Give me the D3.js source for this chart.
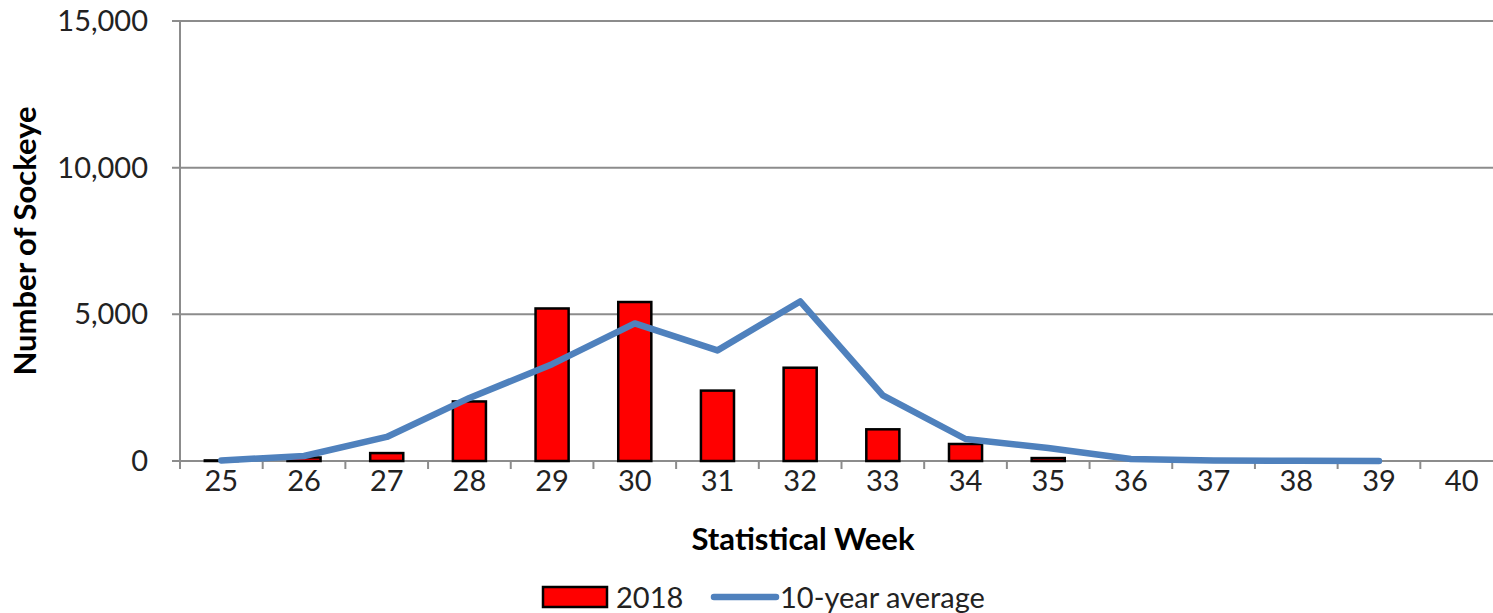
<!DOCTYPE html>
<html><head><meta charset="utf-8">
<script src="https://cdn.jsdelivr.net/npm/d3@7"></script>
<style>html,body{margin:0;padding:0;background:#fff;overflow:hidden}</style>
</head><body>
<svg id="c" width="1493" height="613"></svg>
<script>
const weeks = [25,26,27,28,29,30,31,32,33,34,35,36,37,38,39,40];
const catch2018 = [20,120,270,2030,5200,5420,2400,3180,1080,580,100,0,0,0,0,0];
const avg10 = [20,170,820,2150,3300,4690,3770,5440,2240,750,440,70,20,5,0];
const yTicks = [0,5000,10000,15000];

const svg = d3.select("#c");
const font = "Lato, 'Open Sans', sans-serif";
const x = d3.scaleBand().domain(weeks).range([180,1503]).paddingInner(0.6).paddingOuter(0.3);
const xb = d3.scaleBand().domain(weeks).range([180,1503]);
const y = d3.scaleLinear().domain([0,15000]).range([461,21]);

// gridlines
svg.append("g").selectAll("line").data(yTicks).join("line")
  .attr("x1",172).attr("x2",1493).attr("y1",d=>y(d)).attr("y2",d=>y(d))
  .attr("stroke","#8c8c8c").attr("stroke-width",2);
// y axis line
svg.append("line").attr("x1",180).attr("x2",180).attr("y1",y(15000)).attr("y2",469)
  .attr("stroke","#8c8c8c").attr("stroke-width",2);
// x ticks at category boundaries
svg.append("g").selectAll("line").data(weeks).join("line")
  .attr("x1",d=>xb(d)).attr("x2",d=>xb(d)).attr("y1",461).attr("y2",469)
  .attr("stroke","#8c8c8c").attr("stroke-width",2);

// y labels
svg.append("g").selectAll("text").data(yTicks).join("text")
  .attr("x",148).attr("y",d=>y(d)).attr("dy","0.35em").attr("text-anchor","end")
  .attr("font-family",font).attr("font-size",29).attr("fill","#222")
  .text(d=>d3.format(",")(d));
// x labels
svg.append("g").selectAll("text").data(weeks).join("text")
  .attr("x",d=>xb(d)+xb.bandwidth()/2).attr("y",491).attr("text-anchor","middle")
  .attr("font-family",font).attr("font-size",29).attr("fill","#222")
  .text(d=>d);

// bars
svg.append("g").selectAll("rect").data(weeks.map((w,i)=>({w,v:catch2018[i]})).filter(d=>d.v>0)).join("rect")
  .attr("x",d=>x(d.w)).attr("width",x.bandwidth())
  .attr("y",d=>y(d.v)).attr("height",d=>y(0)-y(d.v))
  .attr("fill","#ff0000").attr("stroke","#000").attr("stroke-width",2.5);

// line
const line = d3.line().x((d,i)=>xb(weeks[i])+xb.bandwidth()/2).y(d=>y(d));
svg.append("path").datum(avg10).attr("d",line).attr("fill","none")
  .attr("stroke","#4f81bd").attr("stroke-width",6.5).attr("stroke-linejoin","round").attr("stroke-linecap","round");

// axis titles
svg.append("text").attr("x",803).attr("y",550).attr("text-anchor","middle")
  .attr("font-family",font).attr("font-weight","bold").attr("font-size",31).attr("fill","#000")
  .text("Statistical Week");
svg.append("text").attr("transform","translate(36,241) rotate(-90)").attr("text-anchor","middle")
  .attr("font-family",font).attr("font-weight","bold").attr("font-size",31).attr("fill","#000")
  .text("Number of Sockeye");

// legend
const lg = svg.append("g");
lg.append("rect").attr("x",543).attr("y",587).attr("width",64).attr("height",20)
  .attr("fill","#ff0000").attr("stroke","#000").attr("stroke-width",2.5);
lg.append("text").attr("x",616).attr("y",608).attr("font-family",font).attr("font-size",29).attr("fill","#222").text("2018");
lg.append("line").attr("x1",714).attr("x2",776).attr("y1",597).attr("y2",597)
  .attr("stroke","#4f81bd").attr("stroke-width",6.5).attr("stroke-linecap","round");
lg.append("text").attr("x",780).attr("y",608).attr("font-family",font).attr("font-size",29).attr("fill","#222").text("10-year average");
</script>
</body></html>
